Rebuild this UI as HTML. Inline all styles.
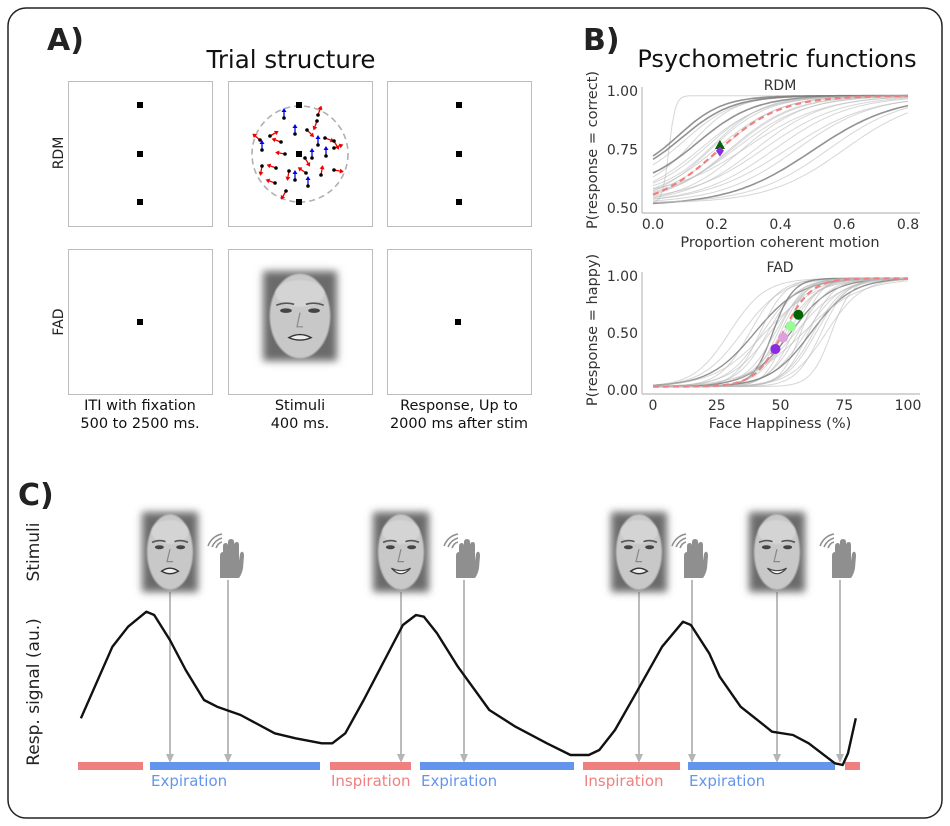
<!DOCTYPE html>
<html><head><meta charset="utf-8"><style>
html,body{margin:0;padding:0;background:#fff;}
svg{display:block;font-family:"DejaVu Sans","Liberation Sans",sans-serif;}
</style></head><body>
<svg id="fig" width="950" height="826" viewBox="0 0 950 826" xmlns="http://www.w3.org/2000/svg">
<defs>
<filter id="blur3" x="-30%" y="-30%" width="160%" height="160%"><feGaussianBlur stdDeviation="4"/></filter>
<filter id="blur1"><feGaussianBlur stdDeviation="0.8"/></filter>
</defs>
<rect x="8" y="8" width="934" height="810" rx="18" fill="#fff" stroke="#222" stroke-width="1.5"/>

<text x="47" y="50" font-size="30" font-weight="bold" fill="#222">A)</text>
<text x="291" y="68" font-size="24.5" text-anchor="middle" fill="#111">Trial structure</text>
<g id="panelA"></g>

<text x="583" y="50" font-size="30" font-weight="bold" fill="#222">B)</text>
<text x="777" y="67" font-size="24" text-anchor="middle" fill="#111">Psychometric functions</text>
<g id="rdm"></g>
<g id="fad"></g>

<text x="18" y="505" font-size="30" font-weight="bold" fill="#222">C)</text>
<text transform="translate(39,552) rotate(-90)" font-size="17" text-anchor="middle" fill="#222">Stimuli</text>
<text transform="translate(39,692) rotate(-90)" font-size="17" text-anchor="middle" fill="#222">Resp. signal (au.)</text>
<g id="panelC"></g>
</svg>
<script>
// ---------- Panel C data ----------
const facesX = [170, 401, 639, 777];
const faceHappy = [false, true, false, true];
const handsX = [228, 464, 692, 840];
const phaseStarts = [78, 150, 330, 420, 583, 688, 845];
const phaseEnds = [143, 320, 411, 574, 680, 835, 860];
const phaseTypes = ['insp', 'exp', 'insp', 'exp', 'insp', 'exp', 'insp'];
const phaseLabels = ['', 'Expiration', 'Inspiration', 'Expiration', 'Inspiration', 'Expiration', ''];
const sigT = [40,100,130,165,180,210,240,275,300,345,410,450,500,520,545,580,620,655,680,695,720,760,820,870,930,975,1010,1030,1060,1100,1150,1190,1205,1240,1260,1300,1340,1360,1400,1430,1480,1495,1505,1520];
const sigV = [655,440,380,335,345,420,510,600,620,645,700,715,730,730,700,600,480,375,345,350,400,500,630,680,730,765,765,750,690,580,440,365,375,460,530,620,670,695,705,730,790,795,760,655];

// ---------- Panel B data ----------
const rdmXTicks = [0.0, 0.2, 0.4, 0.6, 0.8];
const rdmXTickLabels = ['0.0','0.2','0.4','0.6','0.8'];
const rdmYTicks = [0.5, 0.75, 1.0];
const rdmYTickLabels = ['0.50','0.75','1.00'];
const rdmThr = [0.05,0.08,0.10,0.12,0.14,0.15,0.17,0.19,0.20,0.22,0.24,0.26,0.28,0.30,0.32,0.35,0.38,0.42,0.45,0.50,0.55,0.60,0.09,0.18,0.25];
const rdmSlope = [0.01,0.07,0.08,0.07,0.09,0.10,0.09,0.08,0.10,0.09,0.10,0.11,0.10,0.12,0.11,0.12,0.12,0.13,0.12,0.13,0.12,0.12,0.08,0.09,0.10];
const rdmGuess = [0.52,0.64,0.60,0.57,0.58,0.53,0.55,0.56,0.53,0.54,0.52,0.53,0.52,0.55,0.52,0.53,0.52,0.52,0.52,0.51,0.52,0.52,0.62,0.52,0.53];
const rdmDark = [0,1,0,0,1,0,0,0,0,0,0,0,0,0,0,0,0,0,0,1,0,0,1,0,0];
const rdmMean = {thr:0.2, slope:0.1, guess:0.5};
const rdmMarkers = [{x:0.21,y:0.765,type:'tri',color:'#006400'},{x:0.21,y:0.745,type:'dia',color:'#8a2be2'}];

const fadXTicks = [0, 25, 50, 75, 100];
const fadXTickLabels = ['0','25','50','75','100'];
const fadYTicks = [0, 0.5, 1.0];
const fadYTickLabels = ['0.00','0.50','1.00'];
const fadThr = [30,35,38,40,42,43,45,46,47,48,50,51,52,53,54,55,56,57,58,60,61,62,64,66,68,70,44,49,59,63];
const fadSlope = [7,8,6,9,5,7,6,8,4,6,5,7,4,6,8,5,9,6,4,7,5,8,6,5,7,4,10,5,11,6];
const fadDark = [0,0,0,1,0,0,0,0,1,0,0,0,0,0,1,0,0,0,0,0,0,1,0,0,0,0,0,0,0,0];
const fadMean = {thr:51, slope:5.5};
const fadMarkers = [{x:48,y:0.36,color:'#8a2be2'},{x:51,y:0.46,color:'#dda0dd'},{x:54,y:0.56,color:'#98fb98'},{x:57,y:0.66,color:'#006400'}];

const NS = 'http://www.w3.org/2000/svg';
function mk(tag, attrs, parent) {
  const e = document.createElementNS(NS, tag);
  for (const k in attrs) e.setAttribute(k, attrs[k]);
  if (parent) parent.appendChild(e);
  return e;
}
function logistic(z){return 1/(1+Math.exp(-z));}

// ---------- Panel A ----------
const pA = document.getElementById('panelA');
const colX = [68, 228, 387];
const rowY = [81, 249];
const capLines = [['ITI with fixation','500 to 2500 ms.'],['Stimuli','400 ms.'],['Response, Up to','2000 ms after stim']];
for (let r = 0; r < 2; r++) {
  for (let c = 0; c < 3; c++) {
    const b = mk('rect', {x:colX[c]+0.5, y:rowY[r]+0.5, width:144, height:145, fill:'#fff', stroke:'#bdbdbd', 'stroke-width':1}, pA);
    
    
  }
}
function fixSq(x, y, name) {
  const s = mk('rect', {x:x-3, y:y-3, width:6, height:6, fill:'#000'}, pA);
  
  
}
[0, 2].forEach(c => { [105,154,202].forEach((y,i) => fixSq(colX[c]+72, y, 'fixation-dot')); });
const circ = mk('circle', {cx:300, cy:154, r:48, fill:'none', stroke:'#b0b0b0', 'stroke-width':1.6, 'stroke-dasharray':'6,4'}, pA);


[105,154,202].forEach(y => fixSq(299, y, 'fixation-dot'));
const dots = [[284,118,'b',-90],[317,121,'r',110],[318,115,'r',-70],[270,136,'r',-30],[295,134,'b',-90],[307,130,'r',45],[325,138,'r',20],[334,141,'r',60],[260,140,'r',-140],[281,142,'r',-160],[318,145,'b',-90],[262,150,'b',-90],[334,148,'r',-20],[285,154,'r',-170],[305,158,'r',60],[312,158,'b',-90],[326,156,'b',-90],[262,166,'r',100],[276,168,'r',-160],[289,171,'r',100],[306,173,'r',-145],[321,175,'r',-80],[334,170,'r',10],[295,180,'b',-90],[275,183,'r',-160],[308,186,'b',-90],[286,191,'r',120]];
dots.forEach(d => {
  const col = d[2]==='b' ? '#0000ee' : '#ee0000';
  const a = d[3]*Math.PI/180;
  const x2 = d[0]+Math.cos(a)*8, y2 = d[1]+Math.sin(a)*8;
  const g = mk('g', {}, pA);
  
  
  mk('line', {x1:d[0], y1:d[1], x2:x2, y2:y2, stroke:col, 'stroke-width':1.3}, g);
  const hx = Math.cos(a), hy = Math.sin(a), px = -hy, py = hx;
  mk('polygon', {points:`${x2+hx*2},${y2+hy*2} ${x2-hx*2+px*2.5},${y2-hy*2+py*2.5} ${x2-hx*2-px*2.5},${y2-hy*2-py*2.5}`, fill:col}, g);
  mk('circle', {cx:d[0], cy:d[1], r:1.8, fill:'#000'}, g);
});
fixSq(140, 322, 'fixation-dot');
fixSq(458, 322, 'fixation-dot');

function drawFace(parent, cx, cy, w, h, happy, name) {
  const g = mk('g', {}, parent);
  
  
  mk('rect', {x:cx-w/2, y:cy-h/2, width:w, height:h, fill:'#6a6a6a', filter:'url(#blur3)'}, g);
  mk('ellipse', {cx:cx, cy:cy, rx:w*0.41, ry:h*0.47, fill:'#c8c8c8', filter:'url(#blur1)'}, g);
  mk('ellipse', {cx:cx, cy:cy-h*0.25, rx:w*0.33, ry:h*0.15, fill:'#d4d4d4', filter:'url(#blur1)'}, g);
  const ey = cy - h*0.06;
  [-1,1].forEach(s => {
    mk('path', {d:`M${cx+s*w*0.08} ${ey-h*0.07} Q${cx+s*w*0.2} ${ey-h*0.1} ${cx+s*w*0.32} ${ey-h*0.06}`, stroke:'#555', 'stroke-width':1.6, fill:'none'}, g);
    mk('ellipse', {cx:cx+s*w*0.19, cy:ey, rx:w*0.08, ry:h*0.025, fill:'#444'}, g);
  });
  mk('path', {d:`M${cx} ${ey+2} L${cx-3} ${cy+h*0.12} L${cx+3} ${cy+h*0.12}`, stroke:'#888', 'stroke-width':1.2, fill:'none'}, g);
  const my = cy + h*0.24;
  if (happy) {
    mk('path', {d:`M${cx-w*0.17} ${my-3} Q${cx} ${my+8} ${cx+w*0.17} ${my-3} Q${cx} ${my+2} ${cx-w*0.17} ${my-3}Z`, fill:'#fff', stroke:'#444', 'stroke-width':1.2}, g);
  } else {
    mk('path', {d:`M${cx-w*0.15} ${my} Q${cx} ${my-6} ${cx+w*0.15} ${my} Q${cx} ${my+5} ${cx-w*0.15} ${my}Z`, fill:'#eee', stroke:'#333', 'stroke-width':1.4}, g);
  }
  return g;
}
drawFace(pA, 300, 316, 74, 90, false, 'stimulus-face');

const rl = mk('text', {transform:'translate(63,153) rotate(-90)', 'font-size':14, 'text-anchor':'middle', fill:'#222'}, pA);
rl.textContent = 'RDM';


const fl = mk('text', {transform:'translate(63,322) rotate(-90)', 'font-size':14, 'text-anchor':'middle', fill:'#222'}, pA);
fl.textContent = 'FAD';


capLines.forEach((lines, c) => {
  lines.forEach((t, i) => {
    const tx = mk('text', {x:colX[c]+72, y:410+i*18, 'font-size':14.5, 'text-anchor':'middle', fill:'#111'}, pA);
    tx.textContent = t;
    
    
  });
});

// ---------- Panel B ----------
function axesFrame(g, x0, x1, yTop, yBot, axisX, axisY) {
  mk('line', {x1:axisX, y1:yTop-4, x2:axisX, y2:axisY, stroke:'#bbb', 'stroke-width':1.2}, g);
  mk('line', {x1:axisX, y1:axisY, x2:x1+12, y2:axisY, stroke:'#bbb', 'stroke-width':1.2}, g);
}
function label(g, x, y, t, size, anchor, name, rot) {
  const e = mk('text', {x:x, y:y, 'font-size':size, 'text-anchor':anchor, fill:'#333'}, g);
  if (rot) { e.removeAttribute('x'); e.removeAttribute('y'); e.setAttribute('transform', `translate(${x},${y}) rotate(-90)`); }
  e.textContent = t;
  
  
  return e;
}
(function(){
  const g = document.getElementById('rdm');
  const xS = v => 653 + (v - 0) / 0.8 * (908 - 653);
  const yS = v => 208 - (v - 0.5) / 0.5 * (208 - 91);
  axesFrame(g, 653, 908, 91, 208, 642, 213);
  rdmXTicks.forEach((v,i) => label(g, xS(v), 229, rdmXTickLabels[i], 14, 'middle', 'rdm-x-tick'));
  rdmYTicks.forEach((v,i) => label(g, 638, yS(v)+5, rdmYTickLabels[i], 14, 'end', 'rdm-y-tick'));
  label(g, 780, 247, 'Proportion coherent motion', 14.5, 'middle', 'rdm-x-axis-title');
  label(g, 780, 90, 'RDM', 14, 'middle', 'rdm-subplot-title');
  label(g, 597, 150, 'P(response = correct)', 14.5, 'middle', 'rdm-y-axis-title', true);
  const top = 0.98;
  const curve = (thr, sl, gu) => {
    let d = '';
    for (let i = 0; i <= 80; i++) {
      const x = i / 100;
      const y = gu + (top - gu) * logistic((x - thr) / sl);
      d += (i ? 'L' : 'M') + xS(x).toFixed(1) + ' ' + yS(y).toFixed(1);
    }
    return d;
  };
  rdmThr.forEach((t, i) => {
    const p = mk('path', {d:curve(t, rdmSlope[i], rdmGuess[i]), fill:'none', stroke: rdmDark[i] ? '#777' : '#bbb', 'stroke-width': rdmDark[i] ? 1.6 : 1, opacity: rdmDark[i] ? 0.8 : 0.6}, g);
    
    
  });
  const m = mk('path', {d:curve(rdmMean.thr, rdmMean.slope, rdmMean.guess), fill:'none', stroke:'#f08080', 'stroke-width':2.2, 'stroke-dasharray':'6,4'}, g);
  
  
  rdmMarkers.forEach(mm => {
    const cx = xS(mm.x), cy = yS(mm.y);
    const pts = mm.type === 'tri' ? `${cx},${cy-6} ${cx-5},${cy+3} ${cx+5},${cy+3}` : `${cx},${cy-4} ${cx+4},${cy} ${cx},${cy+6} ${cx-4},${cy}`;
    const p = mk('polygon', {points:pts, fill:mm.color}, g);
    
    
  });
})();
(function(){
  const g = document.getElementById('fad');
  const xS = v => 653 + v / 100 * (908 - 653);
  const yS = v => 390 - v * (390 - 276);
  axesFrame(g, 653, 908, 276, 390, 642, 394);
  fadXTicks.forEach((v,i) => label(g, xS(v), 410, fadXTickLabels[i], 14, 'middle', 'fad-x-tick'));
  fadYTicks.forEach((v,i) => label(g, 638, yS(v)+5, fadYTickLabels[i], 14, 'end', 'fad-y-tick'));
  label(g, 780, 428, 'Face Happiness (%)', 14.5, 'middle', 'fad-x-axis-title');
  label(g, 780, 272, 'FAD', 14, 'middle', 'fad-subplot-title');
  label(g, 597, 330, 'P(response = happy)', 14.5, 'middle', 'fad-y-axis-title', true);
  const lo = 0.03, hi = 0.98;
  const curve = (thr, sl) => {
    let d = '';
    for (let i = 0; i <= 100; i++) {
      const y = lo + (hi - lo) * logistic((i - thr) / sl);
      d += (i ? 'L' : 'M') + xS(i).toFixed(1) + ' ' + yS(y).toFixed(1);
    }
    return d;
  };
  fadThr.forEach((t, i) => {
    const p = mk('path', {d:curve(t, fadSlope[i]), fill:'none', stroke: fadDark[i] ? '#777' : '#bbb', 'stroke-width': fadDark[i] ? 1.4 : 1, opacity: fadDark[i] ? 0.8 : 0.6}, g);
    
    
  });
  const m = mk('path', {d:curve(fadMean.thr, fadMean.slope), fill:'none', stroke:'#f08080', 'stroke-width':2.2, 'stroke-dasharray':'6,4'}, g);
  
  
  fadMarkers.forEach(mm => {
    const c = mk('circle', {cx:xS(mm.x), cy:yS(mm.y), r:5, fill:mm.color}, g);
    
    
  });
})();

// ---------- Panel C ----------
(function(){
  const g = document.getElementById('panelC');
  const tS = t => 60 + t / 1.91;
  const vS = v => 500 + v / 3.0;
  const arrowXs = facesX.concat(handsX);
  arrowXs.forEach(x => {
    const a = mk('g', {}, g);
    
    
    const y0 = facesX.includes(x) ? 592 : 580;
    mk('line', {x1:x, y1:y0, x2:x, y2:757, stroke:'#bbb', 'stroke-width':2}, a);
    mk('polygon', {points:`${x-4},${754} ${x+4},${754} ${x},${763}`, fill:'#b5b5b5'}, a);
  });
  facesX.forEach((x, i) => drawFace(g, x, 552, 56, 80, faceHappy[i], 'stimulus-face-' + (faceHappy[i] ? 'happy' : 'angry')));
  handsX.forEach(x => {
    const h = mk('g', {transform:`translate(${x-14},538)`, fill:'#8f8f8f'}, g);
    
    
    mk('path', {d:'M6 40 L6 18 Q6 14 9 14 L9 22 L9 8 Q9 5 12 5 Q14 5 14 8 L14 20 L14 4 Q14 1 17 1 Q20 1 20 4 L20 20 L20 7 Q20 4 23 4 Q25 4 25 7 L25 23 L26 16 Q27 13 29 14 Q30 15 30 18 L29 30 Q28 36 25 40 Z'}, h);
    mk('path', {d:'M-6 8 Q-2 -2 8 -4', stroke:'#8f8f8f', 'stroke-width':1.6, fill:'none'}, h);
    mk('path', {d:'M-2 9 Q1 2 8 0', stroke:'#8f8f8f', 'stroke-width':1.6, fill:'none'}, h);
    mk('path', {d:'M2 10 Q4 5 8 4', stroke:'#8f8f8f', 'stroke-width':1.6, fill:'none'}, h);
  });
  phaseStarts.forEach((s, i) => {
    const col = phaseTypes[i] === 'exp' ? '#6495ed' : '#f08080';
    const r = mk('rect', {x:s, y:762, width:phaseEnds[i]-s, height:8, fill:col}, g);
    
    
    if (phaseLabels[i]) {
      const t = mk('text', {x:s+1, y:786, 'font-size':15, fill:col}, g);
      t.textContent = phaseLabels[i];
      
      
    }
  });
  let d = '';
  sigT.forEach((t, i) => { d += (i ? 'L' : 'M') + tS(t).toFixed(1) + ' ' + vS(sigV[i]).toFixed(1); });
  const p = mk('path', {d:d, fill:'none', stroke:'#111', 'stroke-width':2.4, 'stroke-linejoin':'round'}, g);
  
  
})();
</script>
</body></html>
